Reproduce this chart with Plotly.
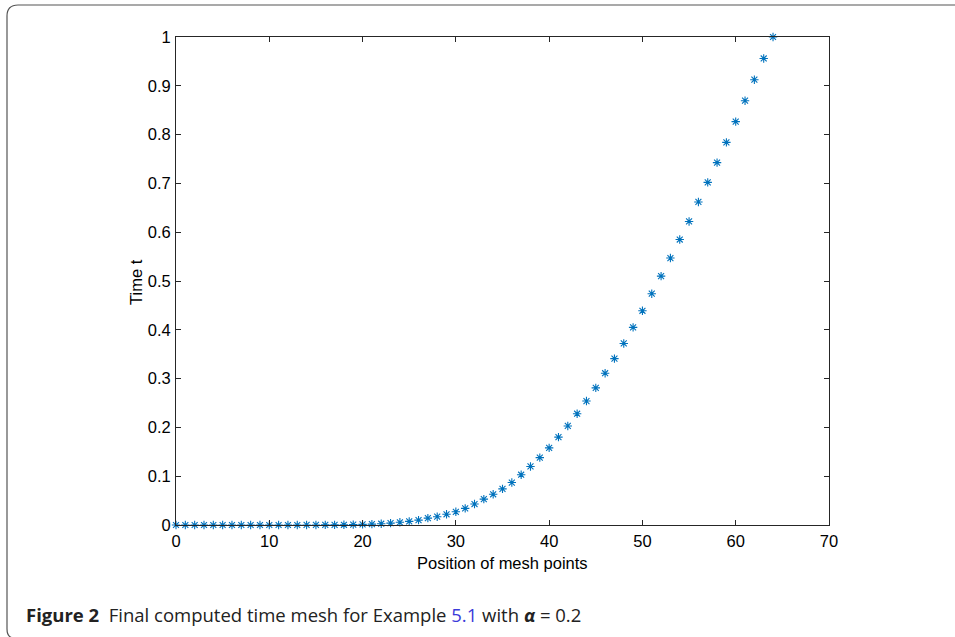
import plotly.graph_objects as go

# Data: position of mesh points (index) and computed time values
positions = list(range(0, 65))
times = [
    0.0, 0.0, 0.0, 0.0, 0.0, 0.0, 0.0, 0.0, 0.0, 0.0,
    0.0, 0.0, 0.0, 0.0, 0.0001, 0.0001, 0.0002, 0.0003, 0.0005, 0.0008,
    0.0012, 0.0018, 0.0026, 0.0038, 0.0055, 0.0075, 0.010, 0.014, 0.017, 0.022,
    0.027, 0.034, 0.043, 0.053, 0.063, 0.074, 0.087, 0.103, 0.120, 0.138,
    0.158, 0.180, 0.203, 0.228, 0.254, 0.281, 0.311, 0.341, 0.372, 0.405,
    0.439, 0.474, 0.510, 0.547, 0.585, 0.622, 0.662, 0.702, 0.7425, 0.784,
    0.8265, 0.8695, 0.9125, 0.956, 1.0,
]
x_ticks = [0, 10, 20, 30, 40, 50, 60, 70]
y_ticks = [0, 0.1, 0.2, 0.3, 0.4, 0.5, 0.6, 0.7, 0.8, 0.9, 1]
y_tick_labels = ["0", "0.1", "0.2", "0.3", "0.4", "0.5", "0.6", "0.7", "0.8", "0.9", "1"]
x_title = "Position of mesh points"
y_title = "Time t"

W, H = 955, 637
L, R, T, B = 176, 829, 37, 525
FONT = "Liberation Sans, Arial, Helvetica, sans-serif"


def px(x):
    return (x - L) / (R - L)


def py(y):
    return (B - y) / (B - T)


fig = go.Figure()
fig.add_trace(go.Scatter(
    x=positions, y=times, mode="markers",
    marker=dict(symbol="asterisk-open", size=7,
                line=dict(color="#0072BD", width=1.1), color="#0072BD"),
    showlegend=False, cliponaxis=False,
))

axis_common = dict(
    showgrid=False, zeroline=False, showline=True, linecolor="#262626",
    linewidth=1, mirror="ticks", ticks="inside", ticklen=5, tickwidth=1,
    tickcolor="#262626",
    tickfont=dict(family=FONT, size=16.5, color="#000"),
)

fig.update_xaxes(range=[0, 70], tickvals=x_ticks, **axis_common, ticklabelstandoff=1)
fig.update_yaxes(range=[0, 1], tickvals=y_ticks, ticktext=y_tick_labels, **axis_common,
                 ticklabelstandoff=1)

fig.add_annotation(text=x_title, xref="paper", yref="paper", x=px(503), y=py(563),
                   xanchor="center", yanchor="middle", showarrow=False,
                   font=dict(family=FONT, size=16.5, color="#000"))
fig.add_annotation(text=y_title, xref="paper", yref="paper", x=px(136), y=py(282),
                   xanchor="center", yanchor="middle", showarrow=False, textangle=-90,
                   font=dict(family=FONT, size=16.5, color="#000"))

# Rounded frame around the figure
frame_path = (
    f"M {px(13)},{py(638)} Q {px(7)},{py(637)} {px(7)},{py(629)} "
    f"L {px(7)},{py(16)} Q {px(7)},{py(5)} {px(18)},{py(5)} L {px(962)},{py(5)}"
)
fig.add_shape(type="path", path=frame_path, xref="paper", yref="paper",
              line=dict(color="#555555", width=1.2), layer="above")

caption = ("<b>Figure 2</b>  Final computed time mesh for Example "
           "<span style='color:#3b3bd9'>5.1</span> with <b><i>α</i></b> = 0.2")
fig.add_annotation(text=caption, xref="paper", yref="paper", x=px(24), y=py(614),
                   xanchor="left", yanchor="middle", showarrow=False,
                   font=dict(family="Open Sans, Noto Sans, sans-serif", size=18.5, color="#222"))

fig.update_layout(
    width=W, height=H, margin=dict(l=L, r=W - R, t=T, b=H - B),
    paper_bgcolor="white", plot_bgcolor="white",
)

fig.write_html("out.html")
